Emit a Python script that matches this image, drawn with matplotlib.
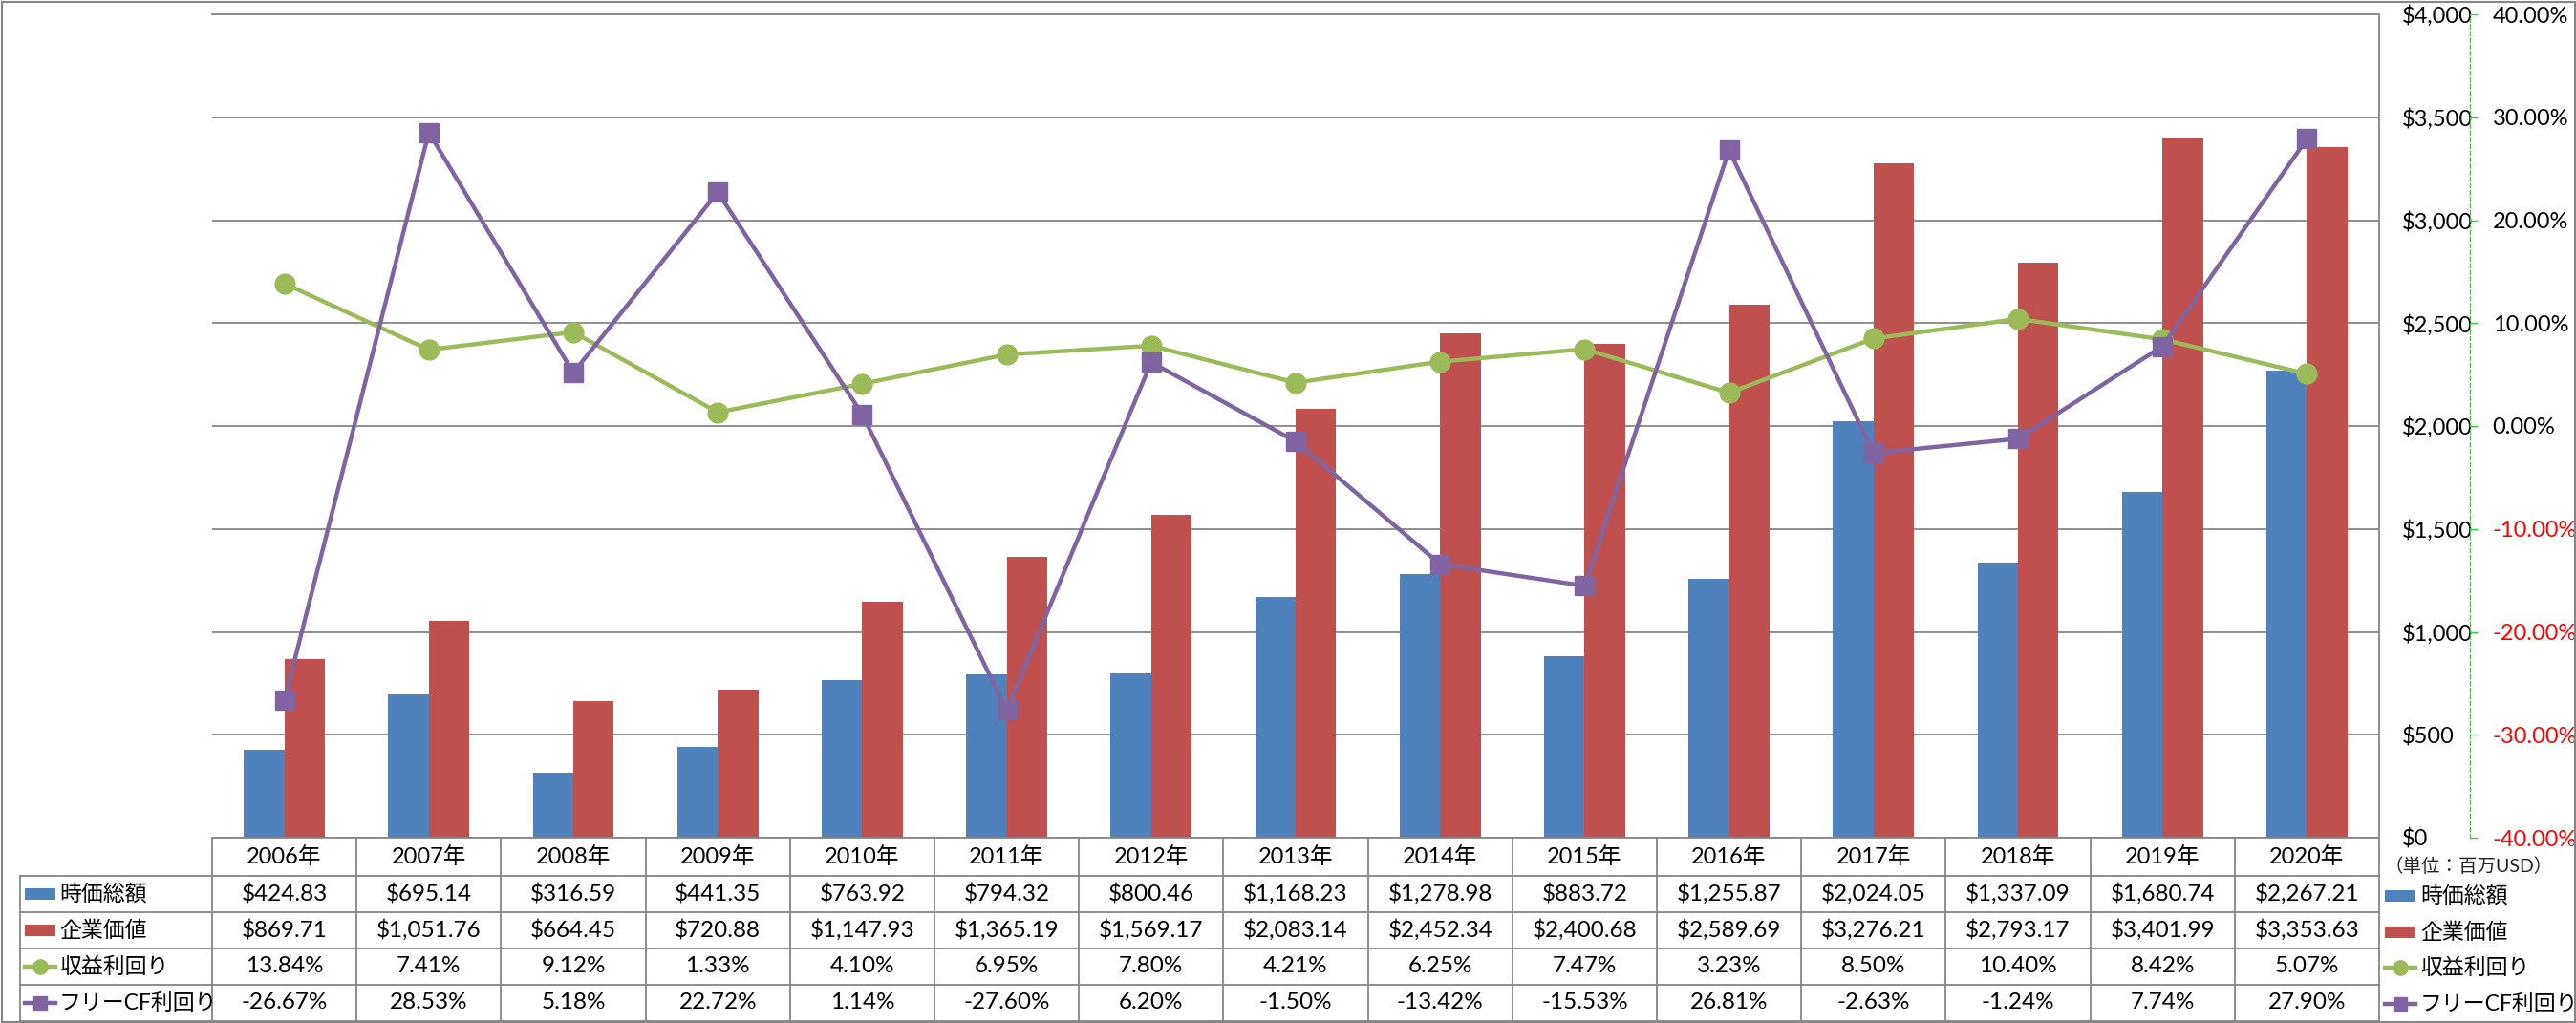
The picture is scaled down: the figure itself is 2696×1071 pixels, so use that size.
import matplotlib
matplotlib.use("Agg")
import matplotlib.pyplot as plt
from matplotlib.lines import Line2D
from matplotlib.patches import Rectangle
from matplotlib.transforms import blended_transform_factory

plt.rcParams["font.family"] = ["Lato", "Noto Sans CJK JP", "DejaVu Sans"]

years = ["2006年", "2007年", "2008年", "2009年", "2010年", "2011年", "2012年", "2013年",
         "2014年", "2015年", "2016年", "2017年", "2018年", "2019年", "2020年"]
market_cap = [424.83, 695.14, 316.59, 441.35, 763.92, 794.32, 800.46, 1168.23,
              1278.98, 883.72, 1255.87, 2024.05, 1337.09, 1680.74, 2267.21]
enterprise_value = [869.71, 1051.76, 664.45, 720.88, 1147.93, 1365.19, 1569.17, 2083.14,
                    2452.34, 2400.68, 2589.69, 3276.21, 2793.17, 3401.99, 3353.63]
earnings_yield = [13.84, 7.41, 9.12, 1.33, 4.10, 6.95, 7.80, 4.21,
                  6.25, 7.47, 3.23, 8.50, 10.40, 8.42, 5.07]
fcf_yield = [-26.67, 28.53, 5.18, 22.72, 1.14, -27.60, 6.20, -1.50,
             -13.42, -15.53, 26.81, -2.63, -1.24, 7.74, 27.90]
series_names = ["時価総額", "企業価値", "収益利回り", "フリーCF利回り"]
left_ticks = [0, 500, 1000, 1500, 2000, 2500, 3000, 3500, 4000]
right_ticks = [-40, -30, -20, -10, 0, 10, 20, 30, 40]
unit_label = "（単位：百万USD）"

BLUE, RED, GREEN, PURPLE = "#4F81BD", "#C0504D", "#9BBB59", "#8064A2"
GRID = "#868686"
AXIS_GREEN = "#22DD22"
W, H = 2696, 1071


def fx(px):
    return px / W


def fy(px):
    return 1 - px / H


fig = plt.figure(figsize=(W / 100, H / 100), dpi=100)
ax = fig.add_axes([fx(222), fy(877), (2490 - 222) / W, (877 - 15) / H])
n = len(years)
x = list(range(n))
bw = 0.28

ax.bar([i - bw / 2 for i in x], market_cap, width=bw, color=BLUE, zorder=2)
ax.bar([i + bw / 2 for i in x], enterprise_value, width=bw, color=RED, zorder=2)
ax.set_xlim(-0.5, n - 0.5)
ax.set_ylim(0, 4000)
ax.set_xticks([])
ax.set_axisbelow(True)
ax.yaxis.grid(True, color=GRID, lw=1.3)
ax.spines["left"].set_visible(False)
for side in ("top", "bottom", "right"):
    ax.spines[side].set_color(GRID)
    ax.spines[side].set_linewidth(1.3)

ax2 = ax.twinx()
ax2.plot(x, [v / 100 for v in earnings_yield], color=GREEN, lw=3.2, marker="o",
         ms=15, zorder=3)
ax2.plot(x, [v / 100 for v in fcf_yield], color=PURPLE, lw=3.2, marker="s",
         ms=14, zorder=4)
ax2.set_ylim(-0.4, 0.4)
ax2.set_yticks([v / 100 for v in right_ticks])
ax2.set_yticklabels([f"{v:.2f}%" for v in right_ticks])
for side in ("left", "top", "bottom"):
    ax2.spines[side].set_visible(False)
ax2.spines["right"].set_position(("outward", 68.4))
ax2.spines["right"].set_color(AXIS_GREEN)
ax2.spines["right"].set_linestyle((0, (3, 2)))
ax2.spines["right"].set_linewidth(1.0)
ax2.tick_params(axis="y", direction="out", length=5.5, width=1.0, color=AXIS_GREEN,
                pad=11.5, labelsize=17)
for tick, v in zip(ax2.yaxis.get_major_ticks(), right_ticks):
    c = "#FF0000" if v < 0 else "black"
    tick.label1.set_color(c)
    tick.label2.set_color(c)

# primary labels sit on the right, just left of the green secondary axis line
ax.set_yticks(left_ticks)
ax.set_yticklabels([f"${v:,.0f}" for v in left_ticks])
ax.yaxis.tick_right()
ax.tick_params(axis="y", length=0, pad=17, labelsize=17)

# data table below the plot
col_tr = blended_transform_factory(ax.transData, fig.transFigure)
row_edges = [877, 917, 955, 993, 1031, 1069]
row_centers = [(a + b) / 2 for a, b in zip(row_edges[:-1], row_edges[1:])]
line_kw = dict(color=GRID, lw=1.3)

for i in range(n + 1):
    fig.add_artist(Line2D([i - 0.5, i - 0.5], [fy(877), fy(1069)],
                          transform=col_tr, **line_kw))
fig.add_artist(Line2D([fx(21), fx(21)], [fy(917), fy(1069)], **line_kw))
for yy in row_edges[1:]:
    fig.add_artist(Line2D([fx(21), fx(2490)], [fy(yy), fy(yy)], **line_kw))

rows = [
    [f"${v:,.2f}" for v in market_cap],
    [f"${v:,.2f}" for v in enterprise_value],
    [f"{v:.2f}%" for v in earnings_yield],
    [f"{v:.2f}%" for v in fcf_yield],
]
for i, label in enumerate(years):
    fig.text(i, fy(row_centers[0]), label, transform=col_tr, ha="center",
             va="center", fontsize=17)
    for r, row in enumerate(rows):
        fig.text(i, fy(row_centers[r + 1]), row[i], transform=col_tr,
                 ha="center", va="center", fontsize=17.5)


def draw_key(kind, x0, x1, yc):
    if isinstance(kind, str):
        fig.add_artist(Rectangle((fx(x0), fy(yc + 6)), (x1 - x0) / W, 12 / H,
                                 transform=fig.transFigure, color=kind, lw=0))
    else:
        color, marker, ms = kind
        fig.add_artist(Line2D([fx(x0), fx(x1)], [fy(yc), fy(yc)], color=color,
                              lw=3.2))
        fig.add_artist(Line2D([fx((x0 + x1) / 2)], [fy(yc)], color=color,
                              marker=marker, ms=ms, lw=0))


key_kinds = [BLUE, RED, (GREEN, "o", 11), (PURPLE, "s", 10.5)]

for r, name in enumerate(series_names):
    yc = row_centers[r + 1]
    draw_key(key_kinds[r], 26, 58, yc)
    fig.text(fx(62), fy(yc), name, ha="left", va="center", fontsize=16.5)

legend_y = [938, 976, 1013, 1051]
for r, name in enumerate(series_names):
    draw_key(key_kinds[r], 2496, 2528, legend_y[r])
    fig.text(fx(2533), fy(legend_y[r]), name, ha="left", va="center", fontsize=16.5)

fig.text(fx(2584), fy(907), unit_label, ha="center", va="center", fontsize=14,
         color="#222222")

fig.add_artist(Rectangle((fx(1.5), fy(1069.5)), (W - 3) / W, 1068 / H,
                         transform=fig.transFigure, fill=False, ec=GRID, lw=1.5))

fig.savefig("out.png", dpi=100)
